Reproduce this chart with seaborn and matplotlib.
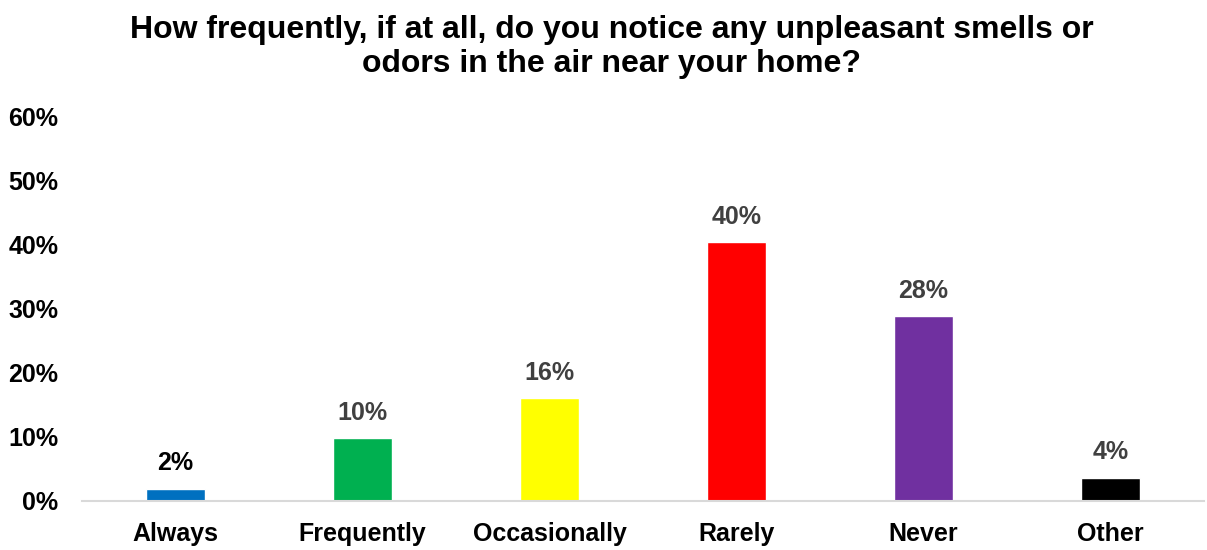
import seaborn as sns
import pandas as pd
import matplotlib.pyplot as plt
from matplotlib.ticker import PercentFormatter

# survey answers and their shares (bar heights, labels as printed)
categories = ['Always', 'Frequently', 'Occasionally', 'Rarely', 'Never', 'Other']
shares = [1.9, 9.8, 16.0, 40.3, 28.8, 3.6]
share_labels = ['2%', '10%', '16%', '40%', '28%', '4%']
colors = ['#0070C0', '#00B050', '#FFFF00', '#FF0000', '#7030A0', '#000000']
label_colors = ['#000000', '#404040', '#404040', '#404040', '#404040', '#404040']

df = pd.DataFrame({'answer': categories, 'share': shares})

sns.set_style('white')
plt.rcParams['font.family'] = ['Liberation Sans', 'DejaVu Sans']
plt.rcParams['text.color'] = 'black'
plt.rcParams['xtick.color'] = 'black'
plt.rcParams['ytick.color'] = 'black'

fig = plt.figure(figsize=(12.07, 5.5), dpi=100)
ax = fig.add_axes([82 / 1207, 49 / 550, 1122 / 1207, 385 / 550])

sns.barplot(x='answer', y='share', hue='answer', data=df, palette=colors,
            width=0.316, legend=False, ax=ax, saturation=1)

for i, (v, lab) in enumerate(zip(shares, share_labels)):
    ax.text(i, v + 2.1, lab, ha='center', va='bottom', fontsize=18,
            fontweight='bold', color=label_colors[i])

ax.set_ylim(0, 60)
ax.set_yticks(range(0, 61, 10))
ax.yaxis.set_major_formatter(PercentFormatter(decimals=0))
ax.set_xlabel('')
ax.set_ylabel('')
ax.tick_params(axis='both', length=0, labelsize=18)
ax.tick_params(axis='x', pad=15)
ax.tick_params(axis='y', pad=17)
for t in ax.get_xticklabels() + ax.get_yticklabels():
    t.set_fontweight('bold')

for s in ['top', 'right', 'left']:
    ax.spines[s].set_visible(False)
ax.spines['bottom'].set_color('#d9d9d9')
ax.spines['bottom'].set_linewidth(1.5)

fig.suptitle('How frequently, if at all, do you notice any unpleasant smells or\nodors in the air near your home?',
             x=0.507, y=0.972, fontsize=23, fontweight='bold', linespacing=1.15)

fig.savefig('out.png', dpi=100)
